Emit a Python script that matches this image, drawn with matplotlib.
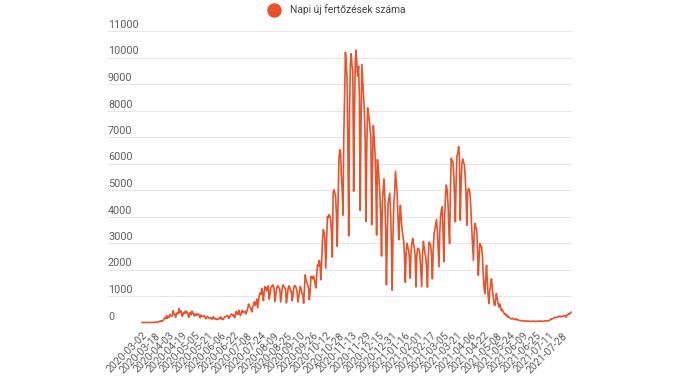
import matplotlib
matplotlib.use("Agg")
import matplotlib.pyplot as plt
from matplotlib.lines import Line2D
from matplotlib import transforms

# daily new infections, one value per day starting 2020-02-26
daily_cases = [
    1, 0, 2, 0, 0, 0, 0,
    0, 0, 0, 3, 0, 0, 2,
    6, 2, 11, 20, 15, 13, 19,
    40, 59, 40, 66, 57, 90, 140,
    186, 144, 263, 160, 227, 192, 308,
    247, 250, 246, 445, 312, 304, 193,
    342, 360, 325, 523, 360, 441, 416,
    233, 300, 380, 343, 433, 365, 400,
    306, 190, 347, 383, 287, 432, 370,
    307, 245, 325, 276, 268, 327, 320,
    255, 175, 290, 243, 230, 219, 260,
    191, 139, 208, 230, 167, 175, 168,
    190, 125, 136, 220, 158, 135, 150,
    120, 110, 141, 166, 134, 215, 133,
    129, 109, 173, 225, 219, 233, 272,
    224, 148, 216, 281, 320, 300, 252,
    280, 180, 312, 422, 320, 300, 460,
    331, 262, 340, 460, 395, 375, 410,
    420, 320, 430, 555, 698, 615, 555,
    501, 398, 614, 663, 777, 650, 720,
    889, 555, 792, 1030, 1120, 1061, 1284,
    1119, 820, 1151, 1356, 1295, 1182, 1348,
    1378, 880, 1040, 1305, 1350, 1420, 1400,
    1280, 791, 1000, 1270, 1370, 1380, 1300,
    1250, 770, 1030, 1300, 1415, 1350, 1300,
    1280, 740, 960, 1250, 1380, 1340, 1200,
    1190, 830, 1000, 1310, 1390, 1380, 1300,
    1170, 770, 950, 1180, 1360, 1250, 1100,
    1050, 730, 1300, 1800, 1600, 1500, 1420,
    1300, 860, 1200, 1740, 1700, 1650, 1750,
    1640, 1450, 1300, 1800, 2180, 2120, 2340,
    2200, 1610, 2300, 3060, 3500, 3400, 3120,
    2050, 3000, 4000, 3950, 4070, 4020, 3880,
    3400, 2470, 4890, 5010, 4900, 4760, 4100,
    2870, 4500, 6100, 6520, 6460, 5580, 5000,
    4050, 7000, 8600, 10200, 9800, 9200, 6500,
    3270, 8000, 9700, 10140, 9700, 9480, 4950,
    7800, 9800, 10280, 9700, 9290, 9670, 8500,
    4230, 7500, 9740, 9200, 8600, 8030, 7000,
    3820, 6500, 8100, 7900, 7660, 7300, 7030,
    3690, 6000, 7430, 7000, 6400, 5500, 3300,
    6150, 5800, 5400, 4800, 4000, 2510, 4500,
    5000, 5420, 4700, 3500, 1420, 3300, 4500,
    4700, 4880, 4200, 3000, 1220, 3200, 4500,
    4900, 5700, 5300, 4880, 4000, 3120, 3900,
    4420, 3900, 3500, 3300, 3060, 2500, 1520,
    2600, 2990, 2850, 2740, 2400, 1670, 2700,
    3000, 3170, 2950, 2800, 2500, 1340, 2500,
    2800, 2780, 2750, 2450, 1900, 1350, 2600,
    3060, 2850, 2600, 2450, 2000, 1340, 2500,
    3040, 2950, 2900, 2500, 1650, 2700, 3360,
    3500, 3700, 3890, 3500, 2800, 2100, 3400,
    4000, 4270, 4370, 3400, 2290, 4000, 4800,
    5190, 5000, 4500, 3600, 2980, 5000, 6200,
    6100, 6070, 5600, 4800, 3800, 5400, 6300,
    6400, 6640, 6200, 3860, 5200, 6000, 6170,
    6050, 5950, 5500, 4800, 3670, 4900, 5060,
    5000, 4800, 4240, 3500, 2900, 2350, 3400,
    3740, 3600, 3480, 2800, 1780, 2500, 2980,
    2900, 2850, 2500, 1800, 1300, 1090, 1700,
    2160, 1500, 1000, 710, 1200, 1450, 1650,
    1300, 1000, 750, 640, 850, 1090, 900,
    750, 580, 700, 600, 450, 500, 420,
    380, 300, 330, 260, 280, 200, 220,
    190, 160, 140, 140, 160, 130, 110,
    120, 140, 100, 110, 90, 80, 75,
    65, 70, 60, 55, 70, 50, 45,
    55, 60, 50, 40, 55, 45, 40,
    45, 55, 50, 40, 35, 50, 45,
    40, 55, 60, 50, 40, 55, 50,
    45, 60, 70, 60, 55, 65, 75,
    80, 110, 140, 130, 150, 170, 200,
    180, 190, 210, 200, 220, 240, 230,
    210, 240, 230, 250, 260, 250, 200,
    280, 300, 330, 310, 350, 390,
]

tick_labels = [
    "2020-03-02", "2020-03-18", "2020-04-03", "2020-04-19", "2020-05-05",
    "2020-05-21", "2020-06-06", "2020-06-22", "2020-07-08", "2020-07-24",
    "2020-08-09", "2020-08-25", "2020-09-10", "2020-09-26", "2020-10-12",
    "2020-10-28", "2020-11-13", "2020-11-29", "2020-12-15", "2020-12-31",
    "2021-01-16", "2021-02-01", "2021-02-17", "2021-03-05", "2021-03-21",
    "2021-04-06", "2021-04-22", "2021-05-08", "2021-05-24", "2021-06-09",
    "2021-06-25", "2021-07-11", "2021-07-28",
]
y_ticks = list(range(0, 11001, 1000))
series_name = "Napi új fertőzések száma"

LINE = "#e8532b"
TXT = "#606060"

plt.rcParams["font.family"] = ["Roboto", "DejaVu Sans"]

W, H = 674, 385
fig = plt.figure(figsize=(W / 100, H / 100), dpi=100)

# chart area in pixels
left_px, right_px, top_px, bottom_px = 108, 572, 31, 322.5
ax = fig.add_axes([left_px / W, 1 - bottom_px / H,
                   (right_px - left_px) / W, (bottom_px - top_px) / H])

# first point sits at x=142px, 0.82px per day
x0_px, step_px = 142, 0.8203
ax.set_xlim((left_px - x0_px) / step_px, (right_px - x0_px) / step_px)
ax.set_ylim(0, 11000)

for v in y_ticks:
    ax.axhline(v, color="#cfcfcf" if v == 0 else "#e6e6e6", lw=0.8, zorder=1)

ax.plot(range(len(daily_cases)), daily_cases, color=LINE, lw=1.2,
        solid_joinstyle="round", clip_on=False, zorder=3)

# y labels sit above their gridlines, flush left
lab_tr = transforms.offset_copy(
    transforms.blended_transform_factory(ax.transAxes, ax.transData),
    fig=fig, x=0, y=3, units="dots")
for v in y_ticks:
    ax.text(0, v, str(v), transform=lab_tr, ha="left", va="baseline",
            fontsize=7.8, color=TXT)

ax.set_xticks([5 + 16 * i for i in range(len(tick_labels))])
ax.set_xticklabels(tick_labels, rotation=45, ha="right", va="center",
                   rotation_mode="anchor", fontsize=7.6, color=TXT)
ax.tick_params(axis="x", length=0, pad=8.3)
ax.tick_params(axis="y", left=False, labelleft=False)
for s in ax.spines.values():
    s.set_visible(False)

# legend at the top
fig.add_artist(Line2D([274.3 / W], [1 - 10.3 / H], marker="o", ms=9.4,
                      color=LINE, transform=fig.transFigure))
fig.text(290 / W, 1 - 13.3 / H, series_name, ha="left", va="baseline",
         fontsize=7.4, color="#444444")

fig.savefig("out.png", dpi=100)
